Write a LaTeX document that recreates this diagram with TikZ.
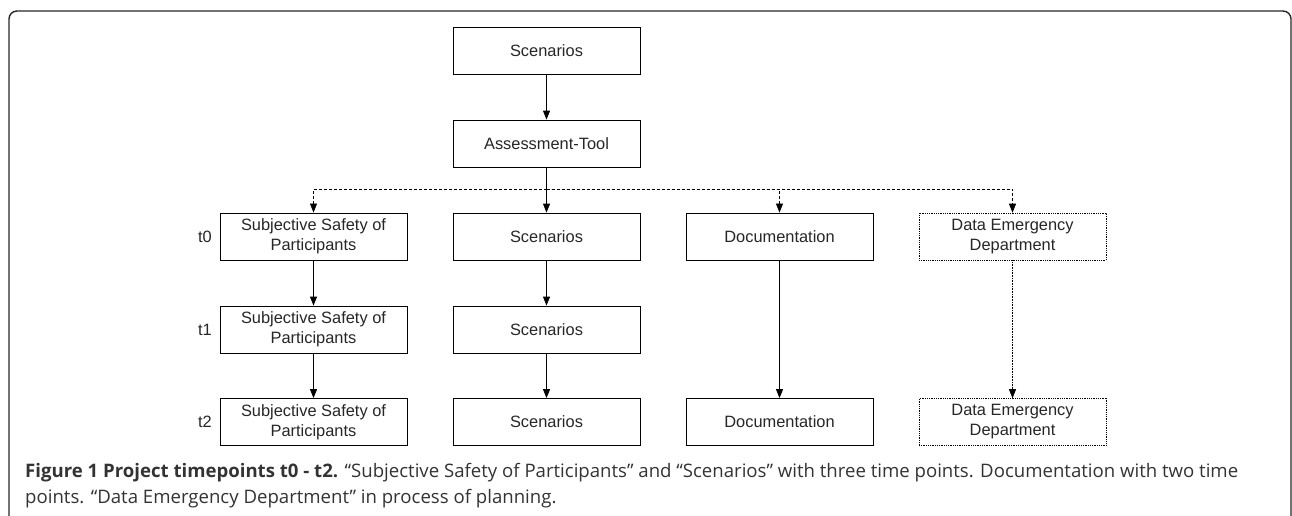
\documentclass[tikz,border=0pt]{standalone}
\usepackage{fontspec}
\setmainfont{Liberation Sans}
\newfontfamily\capfont{Open Sans}
\usetikzlibrary{arrows.meta,positioning}

\tikzset{
    box/.style     = {draw, line width=0.8pt, minimum width=187pt, minimum height=47pt,
                      inner sep=2pt, align=center, font=\fontsize{16.4}{20}\selectfont, text=black!85},
    planbox/.style = {box, densely dotted, line width=0.6pt},
    tlabel/.style  = {font=\fontsize{16.4}{20}\selectfont, text=black!85},
    flow/.style    = {->, line width=0.8pt},
    bus/.style     = {->, line width=0.7pt, dash pattern=on 3pt off 2pt},
    plan/.style    = {->, line width=0.6pt, densely dotted},
}

\begin{document}
\begin{tikzpicture}[x=1pt, y=-1pt, >={Triangle[length=9pt,width=7pt]}, node distance=93pt]
    \useasboundingbox (0,0) rectangle (1292,515);
    % Frame
    \draw [line width=1.4pt, black!85, rounded corners=8pt] (9,530) -- (9,11) -- (1291,11) -- (1291,530);

    % Nodes {top, tool, sc0..sc2, ssp0..ssp2, doc0, doc2, ded0, ded2}
    \node [box]                    (top)  at (546.5,50.5) {Scenarios};
    \node [box]                    (tool) [below of=top]  {Assessment-Tool};
    \node [box]                    (sc0)  [below of=tool] {Scenarios};
    \node [box]                    (sc1)  [below of=sc0]  {Scenarios};
    \node [box]                    (sc2)  [below of=sc1, yshift=0.5pt] {Scenarios};
    \node [box, left of=sc0, node distance=233pt]  (ssp0) {Subjective Safety of\\Participants};
    \node [box, left of=sc1, node distance=233pt]  (ssp1) {Subjective Safety of\\Participants};
    \node [box, left of=sc2, node distance=233pt]  (ssp2) {Subjective Safety of\\Participants};
    \node [box, right of=sc0, node distance=233pt] (doc0) {Documentation};
    \node [box, right of=sc2, node distance=233pt] (doc2) {Documentation};
    \node [planbox, right of=doc0, node distance=233pt] (ded0) {Data Emergency\\Department};
    \node [planbox, right of=doc2, node distance=233pt] (ded2) {Data Emergency\\Department};

    % Time points
    \node [tlabel, left of=ssp0, node distance=108.5pt] (t0) {t0};
    \node [tlabel, left of=ssp1, node distance=108.5pt] (t1) {t1};
    \node [tlabel, left of=ssp2, node distance=108.5pt] (t2) {t2};

    % Paths
    \coordinate (split) at (546.5,189);
    \draw [bus]  (split) -| (ssp0);
    \draw [bus]  (split) -| (doc0);
    \draw [bus]  (split) -| (ded0);
    \draw [flow] (top)  -- (tool);
    \draw [flow] (tool) -- (sc0);
    \draw [flow] (sc0)  -- (sc1);
    \draw [flow] (sc1)  -- (sc2);
    \draw [flow] (ssp0) -- (ssp1);
    \draw [flow] (ssp1) -- (ssp2);
    \draw [flow] (doc0) -- (doc2);
    \draw [plan] (ded0) -- (ded2);

    % Caption
    \node [anchor=north west, align=left, inner sep=0pt, text=black!80,
           font=\capfont\fontsize{18.6}{26}\selectfont] (caption) at (25,463)
        {\textbf{Figure 1 Project timepoints t0 - t2.} “Subjective Safety of Participants” and “Scenarios” with three time points. Documentation with two time\\
         points. “Data Emergency Department” in process of planning.};
\end{tikzpicture}
\end{document}
